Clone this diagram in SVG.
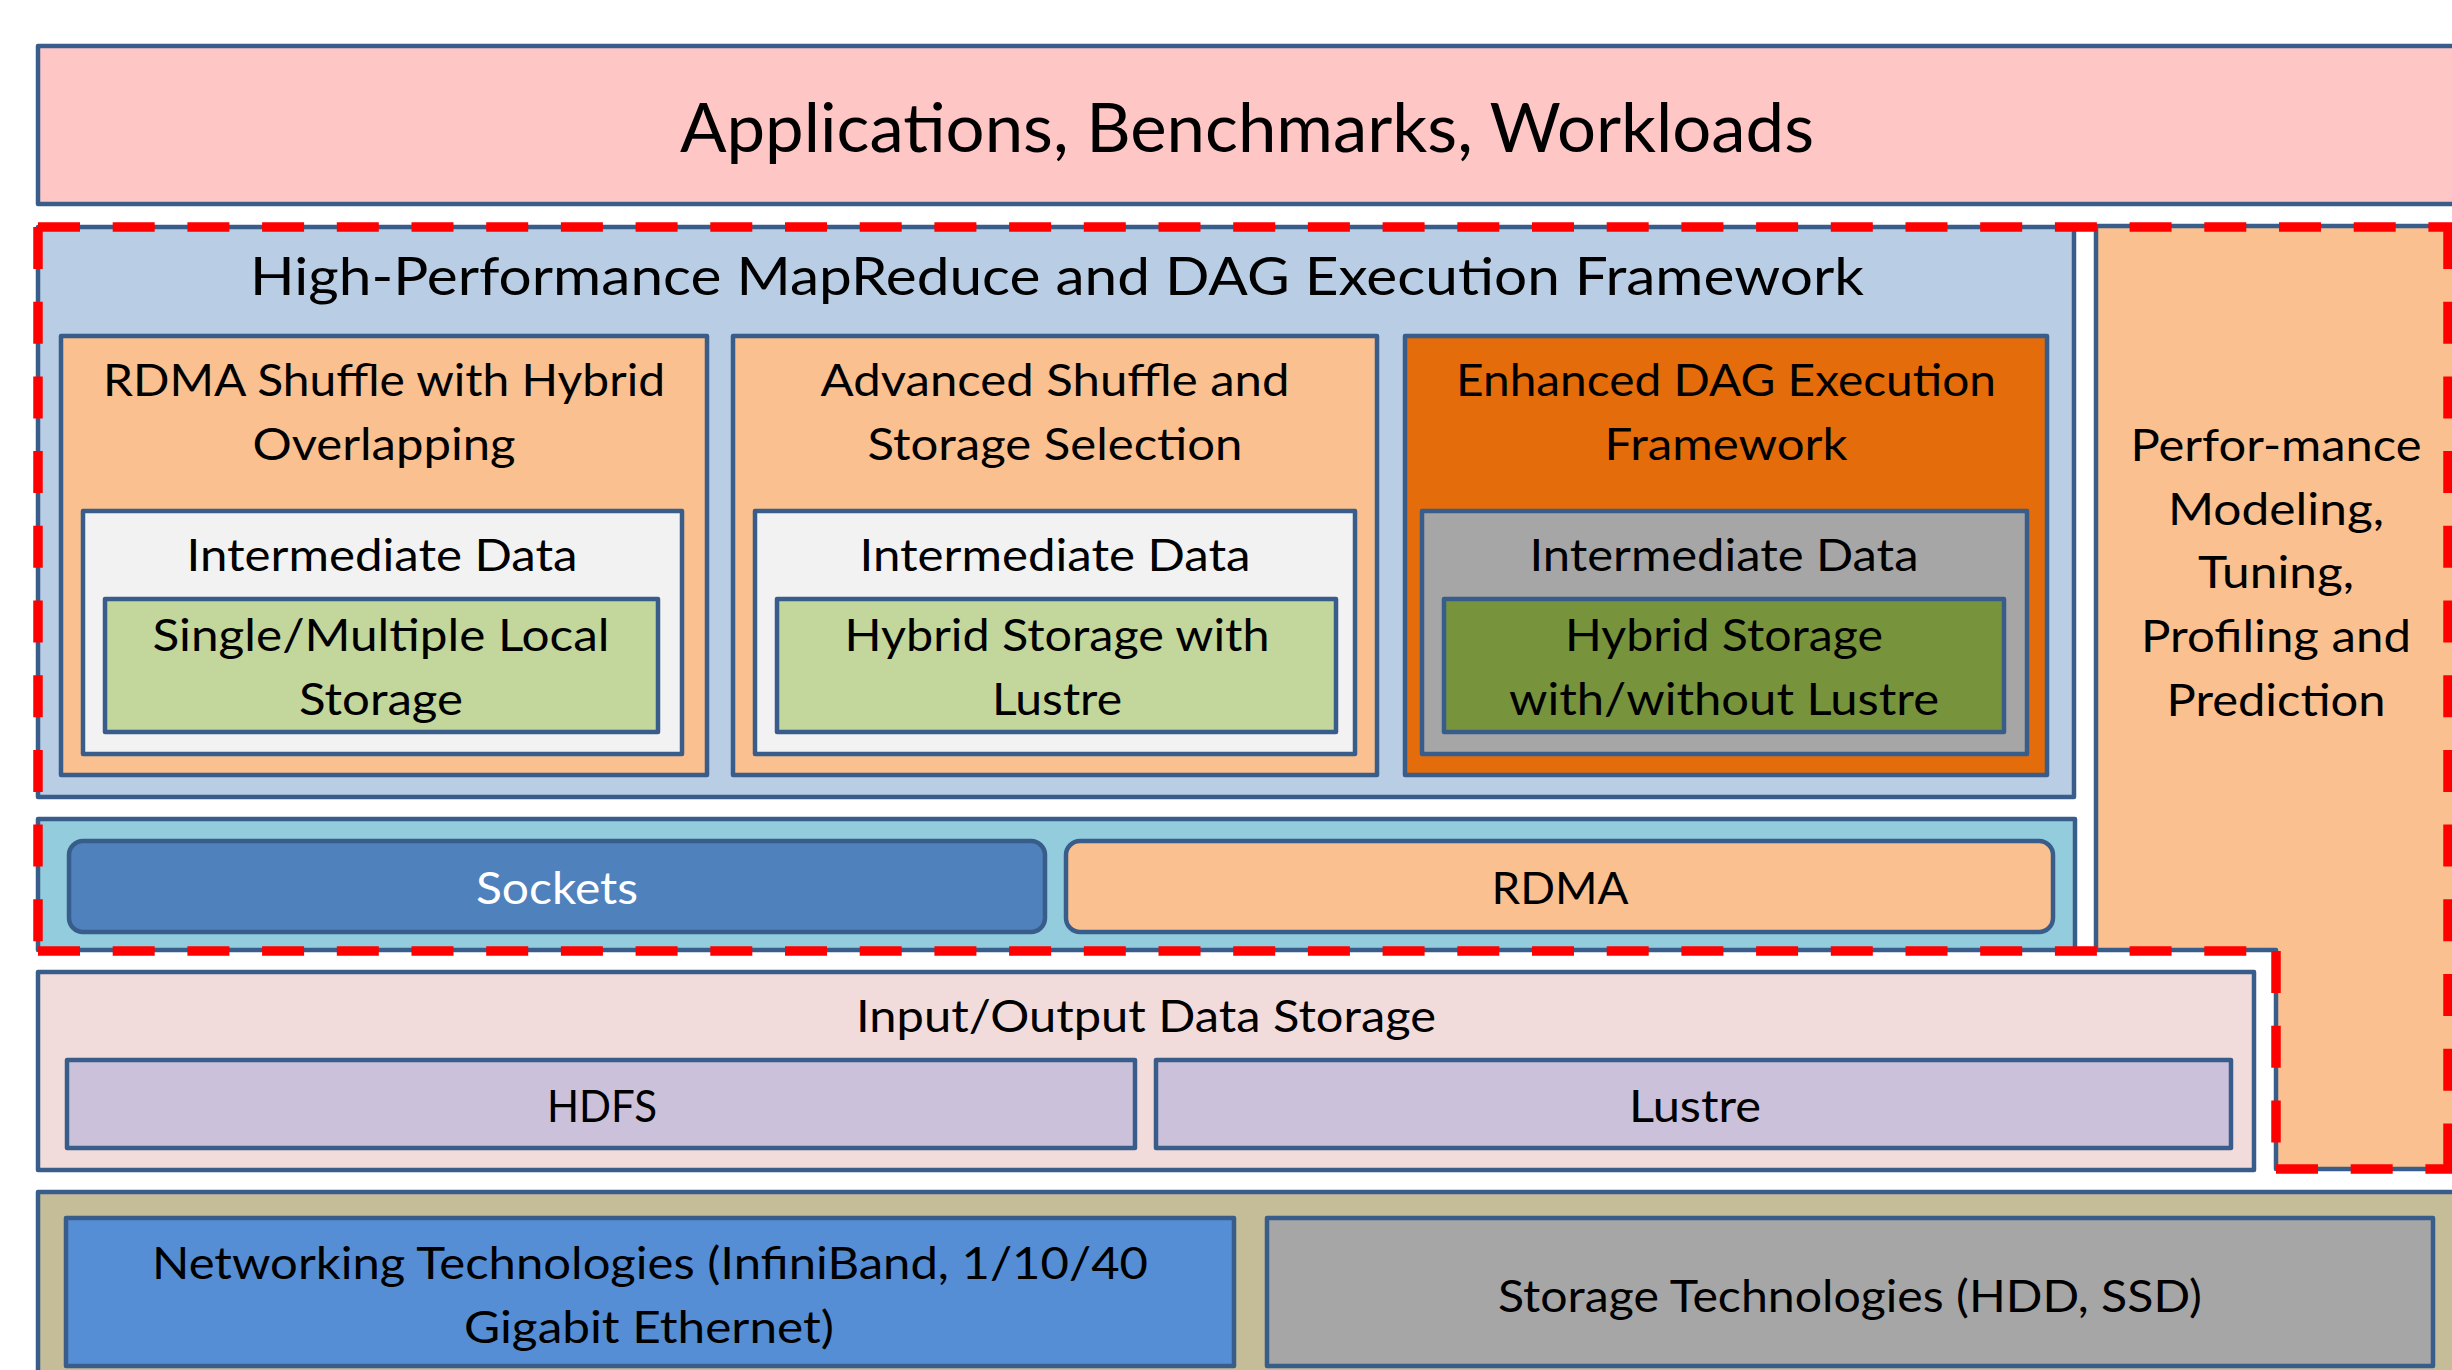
<svg xmlns="http://www.w3.org/2000/svg" width="2452" height="1370" viewBox="0 0 2452 1370">
<style>
.b{stroke:#385D8A;stroke-width:4.5;stroke-linejoin:round}
text{font-family:Lato,"Liberation Sans",sans-serif;fill:#000;text-anchor:middle}
.t45{font-size:45px}
.w{fill:#fff}
.red{fill:none;stroke:#FF0000;stroke-width:9.5;stroke-dasharray:42 32.7}
</style>
<rect width="2452" height="1370" fill="#fff"/>
<g id="applications">
<rect class="b" x="38" y="46" width="2440" height="158" fill="#FFC6C6"/>
<text x="1247" y="152" font-size="67" textLength="1134" lengthAdjust="spacingAndGlyphs">Applications, Benchmarks, Workloads</text>
</g>
<g id="hp-framework">
<rect class="b" x="38" y="227" width="2036" height="570" fill="#B9CDE5"/>
<text x="1057" y="295" font-size="53" textLength="1614" lengthAdjust="spacingAndGlyphs">High-Performance MapReduce and DAG Execution Framework</text>
</g>
<g id="rdma-shuffle">
<rect class="b" x="61" y="336" width="646" height="439" fill="#FAC090"/>
<text class="t45" x="384" y="396" textLength="562" lengthAdjust="spacingAndGlyphs">RDMA Shuffle with Hybrid</text>
<text class="t45" x="384" y="460" textLength="263" lengthAdjust="spacingAndGlyphs">Overlapping</text>
<rect class="b" x="83" y="511" width="599" height="243" fill="#F2F2F2"/>
<text class="t45" x="382" y="571" textLength="391" lengthAdjust="spacingAndGlyphs">Intermediate Data</text>
<rect class="b" x="105" y="599" width="553" height="133" fill="#C3D69B"/>
<text class="t45" x="381" y="651" textLength="457" lengthAdjust="spacingAndGlyphs">Single/Multiple Local</text>
<text class="t45" x="381" y="715" textLength="164" lengthAdjust="spacingAndGlyphs">Storage</text>
</g>
<g id="advanced-shuffle">
<rect class="b" x="733" y="336" width="644" height="439" fill="#FAC090"/>
<text class="t45" x="1055" y="396" textLength="469" lengthAdjust="spacingAndGlyphs">Advanced Shuffle and</text>
<text class="t45" x="1055" y="460" textLength="375" lengthAdjust="spacingAndGlyphs">Storage Selection</text>
<rect class="b" x="755" y="511" width="600" height="243" fill="#F2F2F2"/>
<text class="t45" x="1055" y="571" textLength="391" lengthAdjust="spacingAndGlyphs">Intermediate Data</text>
<rect class="b" x="777" y="599" width="559" height="133" fill="#C3D69B"/>
<text class="t45" x="1057" y="651" textLength="425" lengthAdjust="spacingAndGlyphs">Hybrid Storage with</text>
<text class="t45" x="1057" y="715" textLength="130" lengthAdjust="spacingAndGlyphs">Lustre</text>
</g>
<g id="enhanced-dag">
<rect class="b" x="1405" y="336" width="642" height="439" fill="#E46C0A"/>
<text class="t45" x="1726" y="396" textLength="540" lengthAdjust="spacingAndGlyphs">Enhanced DAG Execution</text>
<text class="t45" x="1726" y="460" textLength="243" lengthAdjust="spacingAndGlyphs">Framework</text>
<rect class="b" x="1422" y="511" width="605" height="243" fill="#A6A6A6"/>
<text class="t45" x="1724" y="571" textLength="389" lengthAdjust="spacingAndGlyphs">Intermediate Data</text>
<rect class="b" x="1444" y="599" width="560" height="133" fill="#77933C"/>
<text class="t45" x="1724" y="651" textLength="318" lengthAdjust="spacingAndGlyphs">Hybrid Storage</text>
<text class="t45" x="1724" y="715" textLength="430" lengthAdjust="spacingAndGlyphs">with/without Lustre</text>
</g>
<g id="performance">
<path class="b" d="M2096 226 H2480 V1169 H2276 V950 H2096 Z" fill="#FAC090"/>
<text class="t45" x="2276" y="461" textLength="291" lengthAdjust="spacingAndGlyphs">Perfor-mance</text>
<text class="t45" x="2276" y="525" textLength="216" lengthAdjust="spacingAndGlyphs">Modeling,</text>
<text class="t45" x="2276" y="588" textLength="156" lengthAdjust="spacingAndGlyphs">Tuning,</text>
<text class="t45" x="2276" y="652" textLength="270" lengthAdjust="spacingAndGlyphs">Profiling and</text>
<text class="t45" x="2276" y="716" textLength="219" lengthAdjust="spacingAndGlyphs">Prediction</text>
</g>
<g id="communication">
<rect class="b" x="38" y="819" width="2037" height="131" fill="#93CDDD"/>
<rect class="b" x="69" y="841" width="976" height="91" rx="14" fill="#4F81BD"/>
<text class="t45 w" x="557" y="904" textLength="162" lengthAdjust="spacingAndGlyphs">Sockets</text>
<rect class="b" x="1066" y="841" width="987" height="91" rx="14" fill="#FAC090"/>
<text class="t45" x="1560" y="904" textLength="137" lengthAdjust="spacingAndGlyphs">RDMA</text>
</g>
<g id="io-storage">
<rect class="b" x="38" y="972" width="2216" height="198" fill="#F2DCDB"/>
<text class="t45" x="1146" y="1032" textLength="580" lengthAdjust="spacingAndGlyphs">Input/Output Data Storage</text>
<rect class="b" x="67" y="1060" width="1068" height="88" fill="#CCC1DA"/>
<text class="t45" x="602" y="1122" textLength="110" lengthAdjust="spacingAndGlyphs">HDFS</text>
<rect class="b" x="1156" y="1060" width="1075" height="88" fill="#CCC1DA"/>
<text class="t45" x="1695" y="1122" textLength="132" lengthAdjust="spacingAndGlyphs">Lustre</text>
</g>
<g id="hardware">
<rect class="b" x="38" y="1192" width="2440" height="200" fill="#C4BD97"/>
<rect class="b" x="66" y="1218" width="1168" height="148" fill="#558ED5"/>
<text class="t45" x="650" y="1279" textLength="996" lengthAdjust="spacingAndGlyphs">Networking Technologies (InfiniBand, 1/10/40</text>
<text class="t45" x="649" y="1343" textLength="370" lengthAdjust="spacingAndGlyphs">Gigabit Ethernet)</text>
<rect class="b" x="1267" y="1218" width="1166" height="148" fill="#A6A6A6"/>
<text class="t45" x="1850" y="1312" textLength="704" lengthAdjust="spacingAndGlyphs">Storage Technologies (HDD, SSD)</text>
</g>
<g id="connectors">
<path class="red" d="M38 227 H2460"/>
<path class="red" d="M38 227 V951"/>
<path class="red" d="M38 951 H2276"/>
<path class="red" d="M2276 951 V1169"/>
<path class="red" d="M2276 1169 H2460"/>
<path class="red" d="M2448 227 V1169"/>
</g>
</svg>
